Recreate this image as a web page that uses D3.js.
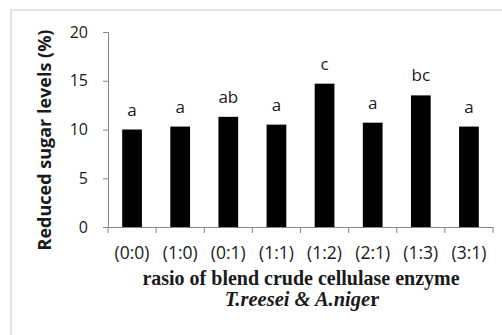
<!DOCTYPE html>
<html>
<head>
<meta charset="utf-8">
<script src="https://cdn.jsdelivr.net/npm/d3@7"></script>
<style>
  body { margin: 0; background: #fff; }
  svg { display: block; }
  .tick text { fill: #1a1a1a; }
</style>
</head>
<body>
<div id="chart"></div>
<script>
// Data
const ratios  = ["(0:0)", "(1:0)", "(0:1)", "(1:1)", "(1:2)", "(2:1)", "(1:3)", "(3:1)"];
const sugar   = [10.0, 10.3, 11.3, 10.5, 14.7, 10.7, 13.5, 10.3];
const letters = ["a", "a", "ab", "a", "c", "a", "bc", "a"];
const yTicks  = [0, 5, 10, 15, 20];

const W = 502, H = 335;
const margin = { top: 32, right: 9, bottom: 108, left: 108 };
const width  = W - margin.left - margin.right;
const height = H - margin.top - margin.bottom;

const root = d3.select("#chart")
  .append("svg")
    .attr("width", W)
    .attr("height", H);

// outer chart frame (only left and top edges show in the crop)
root.append("rect")
  .attr("x", 11).attr("y", 10)
  .attr("width", W + 20).attr("height", H + 20)
  .attr("fill", "none")
  .attr("stroke", "#d9d9d9")
  .attr("stroke-width", 1.5);

const svg = root.append("g")
  .attr("transform", `translate(${margin.left},${margin.top})`);

const x = d3.scaleBand()
  .domain(ratios)
  .range([0, width])
  .paddingInner(0.59)
  .paddingOuter(0.295);

const y = d3.scaleLinear()
  .domain([0, 20])
  .range([height, 0]);

// bars
svg.selectAll(".bar")
  .data(sugar)
  .join("rect")
    .attr("class", "bar")
    .attr("x", (d, i) => x(ratios[i]))
    .attr("y", d => y(d))
    .attr("width", x.bandwidth())
    .attr("height", d => height - y(d))
    .attr("fill", "#000");

// significance letters
svg.selectAll(".sig")
  .data(sugar)
  .join("text")
    .attr("class", "sig")
    .attr("x", (d, i) => x(ratios[i]) + x.bandwidth() / 2)
    .attr("y", d => y(d) - 14)
    .attr("text-anchor", "middle")
    .style("font-family", "'Open Sans', sans-serif")
    .style("font-size", "17px")
    .attr("fill", "#1a1a1a")
    .text((d, i) => letters[i]);

// y axis
const yAxis = svg.append("g")
  .call(d3.axisLeft(y).tickValues(yTicks).tickSize(5).tickPadding(15));

// x axis with ticks at band edges
const xAxis = svg.append("g")
  .attr("transform", `translate(0,${height})`)
  .call(d3.axisBottom(x).tickSize(0).tickPadding(20));

const step = x.step();
xAxis.selectAll(".edge")
  .data(d3.range(ratios.length + 1))
  .join("line")
    .attr("class", "edge")
    .attr("x1", i => i * step).attr("x2", i => i * step)
    .attr("y1", 0).attr("y2", 6)
    .attr("stroke", "#868686");

[yAxis, xAxis].forEach(g => {
  g.select(".domain").attr("stroke", "#868686");
  g.selectAll(".tick line").attr("stroke", "#868686");
});
yAxis.selectAll(".tick text")
  .style("font-family", "'Open Sans', sans-serif")
  .style("font-size", "16px");
xAxis.selectAll(".tick text")
  .style("font-family", "'Open Sans', sans-serif")
  .style("font-size", "17.5px");

// y title
root.append("text")
  .attr("transform", `translate(51,140) rotate(-90)`)
  .attr("text-anchor", "middle")
  .style("font-family", "'Open Sans', sans-serif")
  .style("font-weight", "bold")
  .style("font-size", "18px")
  .attr("fill", "#1a1a1a")
  .text("Reduced sugar levels (%)");

// x title, two lines
root.append("text")
  .attr("x", 301).attr("y", 285)
  .attr("text-anchor", "middle")
  .style("font-family", "'Liberation Serif', serif")
  .style("font-weight", "bold")
  .style("font-size", "20px")
  .attr("fill", "#1a1a1a")
  .text("rasio of blend crude cellulase enzyme");

const t2 = root.append("text")
  .attr("x", 302).attr("y", 306)
  .attr("text-anchor", "middle")
  .style("font-family", "'Liberation Serif', serif")
  .style("font-weight", "bold")
  .style("font-size", "20.5px")
  .attr("fill", "#1a1a1a");
t2.append("tspan").style("font-style", "italic").text("T.reesei & A.nige");
t2.append("tspan").text("r");
</script>
</body>
</html>
